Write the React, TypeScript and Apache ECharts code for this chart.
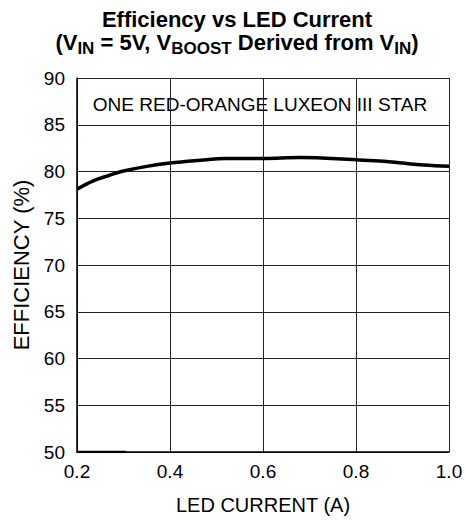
import React, { useEffect, useRef } from "react";
import * as echarts from "echarts";

const currentA = [0.2, 0.235, 0.27, 0.3, 0.35, 0.4, 0.465, 0.52, 0.6, 0.68, 0.8, 0.86, 0.9, 0.945, 1.0];
const efficiencyPct = [78.1, 79.0, 79.6, 80.05, 80.55, 80.9, 81.2, 81.4, 81.4, 81.5, 81.25, 81.1, 80.9, 80.7, 80.55];
const baseSegX = [0.2, 0.305];
const baseSegY = [50, 50];
const titleLine1 = "Efficiency vs LED Current";
const annotation = "ONE RED-ORANGE LUXEON III STAR";
const xName = "LED CURRENT (A)";
const yName = "EFFICIENCY (%)";

const FONT = "'Liberation Sans', Arial, Helvetica, sans-serif";

export default function App() {
  const ref = useRef<HTMLDivElement>(null);
  useEffect(() => {
    if (!ref.current) return;
    const chart = echarts.init(ref.current, null, { renderer: "svg" });
    const l2 = { fontSize: 22, fontWeight: "bold", fontFamily: FONT, fill: "#000", lineHeight: 22, verticalAlign: "top" };
    const sub = { fontSize: 17, fontWeight: "bold", fontFamily: FONT, fill: "#000", lineHeight: 26, verticalAlign: "bottom" };
    chart.setOption({
      animation: false,
      backgroundColor: "#fff",
      textStyle: { fontFamily: FONT },
      grid: { left: 77, right: 17, top: 78, bottom: 64 },
      xAxis: {
        type: "value",
        min: 0.2,
        max: 1.0,
        interval: 0.2,
        name: xName,
        nameLocation: "middle",
        nameGap: 43,
        nameTextStyle: { fontSize: 20, color: "#000", fontFamily: FONT },
        axisLine: { show: true, lineStyle: { color: "#000", width: 1.5 } },
        axisTick: { show: false },
        axisLabel: { fontSize: 19, color: "#000", margin: 10, fontFamily: FONT, formatter: (v: number) => v.toFixed(1) },
        splitLine: { show: true, lineStyle: { color: "#222", width: 1 } },
      },
      yAxis: {
        type: "value",
        min: 50,
        max: 90,
        interval: 5,
        name: yName,
        nameLocation: "middle",
        nameGap: 40,
        nameTextStyle: { fontSize: 22, color: "#000", fontFamily: FONT },
        axisLine: { show: true, lineStyle: { color: "#000", width: 1.5 } },
        axisTick: { show: false },
        axisLabel: { fontSize: 19, color: "#000", margin: 12, fontFamily: FONT },
        splitLine: { show: true, lineStyle: { color: "#222", width: 1 } },
      },
      series: [
        {
          type: "line",
          data: currentA.map((x, i) => [x, efficiencyPct[i]]),
          smooth: 0.4,
          showSymbol: false,
          lineStyle: { color: "#000", width: 3.5 },
        },
        {
          type: "line",
          data: baseSegX.map((x, i) => [x, baseSegY[i]]),
          showSymbol: false,
          lineStyle: { color: "#000", width: 2.5 },
        },
      ],
      graphic: [
        {
          type: "text",
          x: 237,
          y: 19.5,
          style: {
            text: titleLine1,
            align: "center",
            verticalAlign: "middle",
            fontSize: 22,
            fontWeight: "bold",
            fontFamily: FONT,
            fill: "#000",
          },
        },
        {
          type: "text",
          x: 237,
          y: 31,
          style: {
            text: `{b|(V}{s|IN}{b| = 5V, V}{s|BOOST}{b| Derived from V}{s|IN}{b|)}`,
            align: "center",
            verticalAlign: "top",
            rich: { b: l2, s: sub },
          },
        },
        {
          type: "text",
          x: 260,
          y: 104,
          style: {
            text: annotation,
            align: "center",
            verticalAlign: "middle",
            fontSize: 19,
            fontFamily: FONT,
            fill: "#000",
          },
        },
      ],
    });
    return () => chart.dispose();
  }, []);
  return <div ref={ref} style={{ position: "absolute", left: 0, top: 0, width: 466, height: 520 }} />;
}
